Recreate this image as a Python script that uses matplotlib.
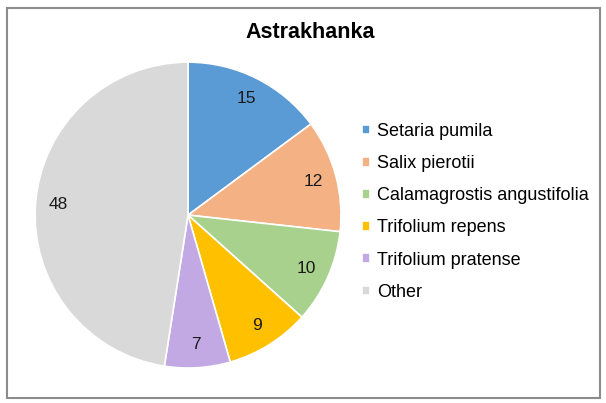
import matplotlib.pyplot as plt
from matplotlib.patches import Rectangle

plt.rcParams['font.family'] = ['Liberation Sans', 'DejaVu Sans']

species = ['Setaria pumila', 'Salix pierotii', 'Calamagrostis angustifolia',
           'Trifolium repens', 'Trifolium pratense', 'Other']
values = [15, 12, 10, 9, 7, 48]
colors = ['#5B9BD5', '#F4B183', '#A9D18E', '#FFC000', '#C3A9E3', '#D9D9D9']

fig = plt.figure(figsize=(6.06, 4.03), dpi=100)

# grey frame like the screenshot
fig.patches.append(Rectangle((7/606, 1-398/403), 593/606, 390/403, transform=fig.transFigure,
                             fill=False, edgecolor='#8c8c8c', linewidth=1.5))

ax = fig.add_axes([0.0578, 0.0868, 0.505, 0.759])
wedges, texts = ax.pie(values, colors=colors, startangle=90, counterclock=False,
                       labels=[str(v) for v in values], labeldistance=0.85,
                       wedgeprops=dict(edgecolor='white', linewidth=1.2),
                       textprops=dict(fontsize=12.5, color='#1a1a1a'))
for t in texts:
    t.set_ha('center')
    t.set_va('center')
ax.set_xlim(-1, 1)
ax.set_ylim(-1, 1)
ax.set_aspect('equal')

fig.text(0.512, 1-32/403, 'Astrakhanka', ha='center', va='center',
         fontsize=15.5, fontweight='bold')

leg = fig.legend(wedges, species, loc='upper left', bbox_to_anchor=(362/606, 1-123/403),
                 frameon=False, fontsize=13, handlelength=0.45, handleheight=0.45,
                 handletextpad=0.4, labelspacing=0.84, borderpad=0, borderaxespad=0)

fig.savefig('out.png', dpi=100)
